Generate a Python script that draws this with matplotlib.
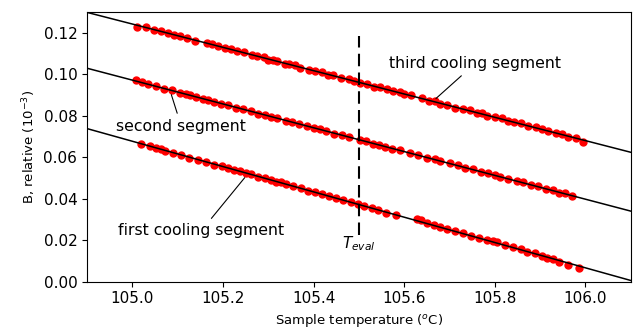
import numpy as np
from matplotlib import pyplot as plt

# data points (temperature in C, B relative in 1e-3)
t1 = [105.020, 105.040, 105.052, 105.063, 105.072, 105.090, 105.108, 105.125, 105.145, 105.162,
      105.180, 105.198, 105.212, 105.225, 105.238, 105.250, 105.262, 105.278, 105.292, 105.305,
      105.318, 105.328, 105.340, 105.355, 105.372, 105.388, 105.402, 105.418, 105.435, 105.450,
      105.465, 105.482, 105.497, 105.512, 105.528, 105.542, 105.560, 105.582, 105.628, 105.638,
      105.650, 105.665, 105.680, 105.695, 105.712, 105.730, 105.748, 105.765, 105.782, 105.795,
      105.805, 105.822, 105.840, 105.858, 105.872, 105.888, 105.905, 105.915, 105.928, 105.942,
      105.962, 105.985]
b1 = [0.0662, 0.0652, 0.0646, 0.0638, 0.0631, 0.0618, 0.0608, 0.0597, 0.0586, 0.0578,
      0.0564, 0.0556, 0.0546, 0.0537, 0.0533, 0.0525, 0.0518, 0.0506, 0.0500, 0.0491,
      0.0481, 0.0478, 0.0470, 0.0459, 0.0451, 0.0438, 0.0432, 0.0421, 0.0412, 0.0401,
      0.0395, 0.0382, 0.0375, 0.0364, 0.0356, 0.0345, 0.0333, 0.0323, 0.0300, 0.0296,
      0.0283, 0.0273, 0.0264, 0.0252, 0.0245, 0.0233, 0.0220, 0.0212, 0.0199, 0.0194,
      0.0190, 0.0175, 0.0166, 0.0157, 0.0145, 0.0137, 0.0122, 0.0115, 0.0109, 0.0097,
      0.0080, 0.0067]

t2 = [105.009, 105.022, 105.035, 105.052, 105.070, 105.088, 105.105, 105.118, 105.128, 105.140,
      105.155, 105.168, 105.180, 105.195, 105.212, 105.228, 105.245, 105.262, 105.278, 105.292,
      105.305, 105.320, 105.338, 105.352, 105.368, 105.385, 105.400, 105.415, 105.428, 105.445,
      105.462, 105.478, 105.502, 105.515, 105.530, 105.545, 105.558, 105.572, 105.590, 105.612,
      105.630, 105.650, 105.668, 105.680, 105.700, 105.718, 105.735, 105.752, 105.770, 105.785,
      105.800, 105.812, 105.830, 105.848, 105.862, 105.880, 105.895, 105.912, 105.928, 105.942,
      105.955, 105.970]
b2 = [0.0973, 0.0960, 0.0952, 0.0941, 0.0930, 0.0921, 0.0908, 0.0904, 0.0897, 0.0891,
      0.0879, 0.0875, 0.0867, 0.0856, 0.0850, 0.0838, 0.0830, 0.0821, 0.0808, 0.0803,
      0.0793, 0.0787, 0.0773, 0.0771, 0.0761, 0.0750, 0.0740, 0.0734, 0.0726, 0.0713,
      0.0706, 0.0695, 0.0684, 0.0676, 0.0665, 0.0660, 0.0651, 0.0640, 0.0634, 0.0620,
      0.0608, 0.0595, 0.0589, 0.0579, 0.0571, 0.0560, 0.0548, 0.0542, 0.0528, 0.0522,
      0.0514, 0.0504, 0.0496, 0.0483, 0.0479, 0.0465, 0.0459, 0.0446, 0.0440, 0.0429,
      0.0425, 0.0413]

t3 = [105.010, 105.030, 105.048, 105.063, 105.078, 105.092, 105.105, 105.121, 105.138, 105.165,
      105.175, 105.188, 105.205, 105.218, 105.232, 105.247, 105.263, 105.275, 105.290, 105.300,
      105.310, 105.319, 105.336, 105.345, 105.358, 105.371, 105.389, 105.404, 105.418, 105.431,
      105.442, 105.460, 105.478, 105.490, 105.503, 105.518, 105.533, 105.546, 105.562, 105.575,
      105.590, 105.600, 105.615, 105.640, 105.655, 105.668, 105.680, 105.695, 105.712, 105.730,
      105.745, 105.760, 105.772, 105.782, 105.800, 105.815, 105.830, 105.842, 105.858, 105.873,
      105.890, 105.905, 105.918, 105.935, 105.948, 105.962, 105.978, 105.994]
b3 = [0.1228, 0.1225, 0.1212, 0.1208, 0.1197, 0.1186, 0.1185, 0.1174, 0.1161, 0.1151,
      0.1143, 0.1133, 0.1127, 0.1121, 0.1109, 0.1104, 0.1090, 0.1087, 0.1080, 0.1070,
      0.1067, 0.1064, 0.1050, 0.1048, 0.1042, 0.1031, 0.1019, 0.1015, 0.1008, 0.0997,
      0.0996, 0.0981, 0.0974, 0.0967, 0.0956, 0.0951, 0.0939, 0.0936, 0.0926, 0.0917,
      0.0912, 0.0902, 0.0897, 0.0885, 0.0872, 0.0868, 0.0857, 0.0852, 0.0838, 0.0832,
      0.0825, 0.0813, 0.0811, 0.0800, 0.0793, 0.0786, 0.0772, 0.0768, 0.0762, 0.0749,
      0.0743, 0.0736, 0.0724, 0.0715, 0.0711, 0.0697, 0.0691, 0.0674]

T_eval = 105.5

fig = plt.figure(figsize=(6.33, 3.3), dpi=100)
ax = fig.add_axes([0.1375, 0.1464, 0.859, 0.818])

xfit = np.array([104.9, 106.1])
for t, b in [(t1, b1), (t2, b2), (t3, b3)]:
    ax.plot(t, b, 'o', color='red', markersize=5, zorder=2)
    p = np.polyfit(t, b, 1)
    ax.plot(xfit, np.polyval(p, xfit), color='black', lw=1.1, zorder=3)

ax.plot([T_eval, T_eval], [0.0224, 0.1184], color='black', lw=1.5,
        linestyle=(0, (6, 3)), zorder=3)
ax.text(T_eval, 0.0228, '$T_{eval}$', ha='center', va='top', fontsize=11)

arrow = dict(arrowstyle='-', color='black', lw=0.8, shrinkA=2, shrinkB=0)
ax.annotate('third cooling segment', xy=(105.670, 0.0882), xytext=(105.756, 0.1050),
            ha='center', va='center', fontsize=11.3, arrowprops=arrow)
ax.annotate('second segment', xy=(105.086, 0.0901), xytext=(105.108, 0.0749),
            ha='center', va='center', fontsize=11.3, arrowprops=arrow)
ax.annotate('first cooling segment', xy=(105.248, 0.0501), xytext=(105.152, 0.0245),
            ha='center', va='center', fontsize=11.3, arrowprops=arrow)

ax.set_xlim(104.9, 106.1)
ax.set_ylim(0, 0.13)
ax.set_xticks([105.0, 105.2, 105.4, 105.6, 105.8, 106.0])
ax.set_yticks([0.0, 0.02, 0.04, 0.06, 0.08, 0.10, 0.12])
ax.tick_params(axis='both', which='major', labelsize=11)
ax.set_xlabel('Sample temperature ($^o$C)', fontsize=9.5)
ax.set_ylabel('B, relative (10$^{-3}$)', fontsize=9.5)

fig.savefig('out.png', dpi=100)
